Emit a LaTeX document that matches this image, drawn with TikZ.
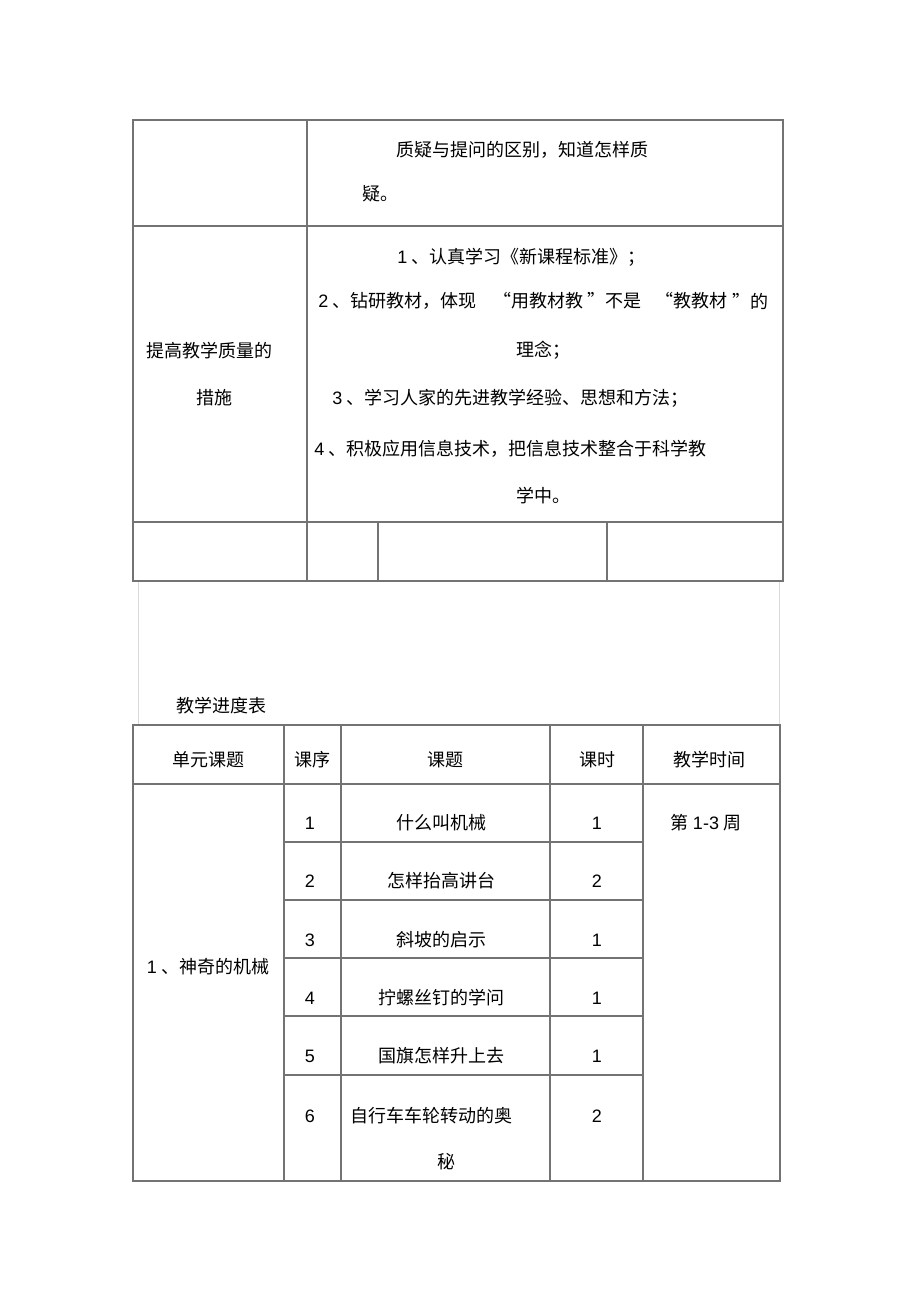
\documentclass[tikz,border=0pt]{standalone}
\usepackage{fontspec}
\setmainfont{Noto Sans CJK SC}
\newfontfamily\digits{Liberation Sans}
\tikzset{
  grid/.style={draw=black!55, line width=1pt},
  faint/.style={draw=black!15, line width=0.5pt},
  cell/.style={inner sep=0pt, font=\fontsize{9}{11}\selectfont}
}
\begin{document}
\begin{tikzpicture}[x=0.5pt,y=-0.5pt]
      \useasboundingbox[fill=white] (0,0) rectangle (920,1302);
      \draw[grid] (133,120) rectangle (783,581);
      \draw[grid] (307,120) -- (307,581);
      \draw[grid] (133,226) -- (783,226);
      \draw[grid] (133,522) -- (783,522);
      \draw[grid] (378,522) -- (378,581);
      \draw[grid] (607,522) -- (607,581);
      \node[cell, anchor=west] (zy1) at (396,150) {质疑与提问的区别，知道怎样质};
      \node[cell, anchor=west] (zy2) at (362,194) {疑。};
      \node[cell] (cs1) at (209,351) {提高教学质量的};
      \node[cell] (cs2) at (214,398) {措施};
      \node[cell, anchor=west] (cs3) at (397,257) {{\digits 1} 、认真学习《新课程标准》；};
      \node[cell, anchor=west] (cs4a) at (318,301) {{\digits 2} 、钻研教材，体现};
      \node[cell, anchor=west] (cs4b) at (493,301) {“用教材教};
      \node[cell, anchor=west] (cs4c) at (587,301) {”不是};
      \node[cell, anchor=west] (cs4d) at (655,301) {“教教材};
      \node[cell, anchor=west] (cs4e) at (732,301) {”的};
      \node[cell, anchor=west] (cs5) at (516,350) {理念；};
      \node[cell, anchor=west] (cs6) at (332,398) {{\digits 3} 、学习人家的先进教学经验、思想和方法；};
      \node[cell, anchor=west] (cs7) at (314,449) {{\digits 4} 、积极应用信息技术，把信息技术整合于科学教};
      \node[cell, anchor=west] (cs8) at (516,496) {学中。};
      \draw[faint] (138,582) -- (138,725);
      \draw[faint] (779,582) -- (779,725);
      \node[cell, anchor=west] (title) at (176,706) {教学进度表};
      \draw[grid] (133,725) rectangle (780,1181);
      \draw[grid] (133,784) -- (780,784);
      \draw[grid] (284,725) -- (284,1181);
      \draw[grid] (341,725) -- (341,1181);
      \draw[grid] (550,725) -- (550,1181);
      \draw[grid] (643,725) -- (643,1181);
      \draw[grid] (284,842) -- (643,842);
      \draw[grid] (284,900) -- (643,900);
      \draw[grid] (284,958) -- (643,958);
      \draw[grid] (284,1016) -- (643,1016);
      \draw[grid] (284,1075) -- (643,1075);
      \node[cell] (hd1) at (208,760) {单元课题};
      \node[cell] (hd2) at (312,760) {课序};
      \node[cell] (hd3) at (445,760) {课题};
      \node[cell] (hd4) at (597,760) {课时};
      \node[cell] (hd5) at (709,760) {教学时间};
      \node[cell] (unit) at (208,967) {{\digits 1} 、神奇的机械};
      \node[cell] (week) at (706,823) {第 {\digits 1-3} 周};
      \node[cell, font=\digits\fontsize{9}{11}\selectfont] (n1) at (310,823) {1};
      \node[cell] (k1) at (441,823) {什么叫机械};
      \node[cell, font=\digits\fontsize{9}{11}\selectfont] (h1) at (597,823) {1};
      \node[cell, font=\digits\fontsize{9}{11}\selectfont] (n2) at (310,881) {2};
      \node[cell] (k2) at (441,881) {怎样抬高讲台};
      \node[cell, font=\digits\fontsize{9}{11}\selectfont] (h2) at (597,881) {2};
      \node[cell, font=\digits\fontsize{9}{11}\selectfont] (n3) at (310,940) {3};
      \node[cell] (k3) at (441,940) {斜坡的启示};
      \node[cell, font=\digits\fontsize{9}{11}\selectfont] (h3) at (597,940) {1};
      \node[cell, font=\digits\fontsize{9}{11}\selectfont] (n4) at (310,998) {4};
      \node[cell] (k4) at (441,998) {拧螺丝钉的学问};
      \node[cell, font=\digits\fontsize{9}{11}\selectfont] (h4) at (597,998) {1};
      \node[cell, font=\digits\fontsize{9}{11}\selectfont] (n5) at (310,1056) {5};
      \node[cell] (k5) at (441,1056) {国旗怎样升上去};
      \node[cell, font=\digits\fontsize{9}{11}\selectfont] (h5) at (597,1056) {1};
      \node[cell, font=\digits\fontsize{9}{11}\selectfont] (n6) at (310,1116) {6};
      \node[cell, anchor=west] (k6a) at (350,1116) {自行车车轮转动的奥};
      \node[cell] (k6b) at (446,1162) {秘};
      \node[cell, font=\digits\fontsize{9}{11}\selectfont] (h6) at (597,1116) {2};
\end{tikzpicture}
\end{document}
